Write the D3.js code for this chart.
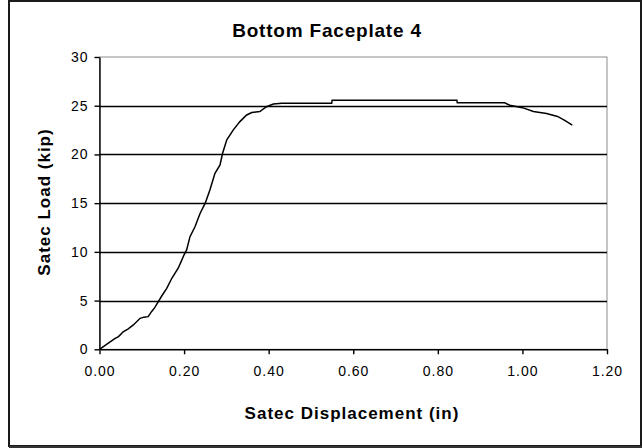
<!DOCTYPE html>
<html>
<head>
<meta charset="utf-8">
<script src="https://cdn.jsdelivr.net/npm/d3@7"></script>
<style>
  html, body { margin: 0; padding: 0; background: #fff; }
  svg { display: block; }
  text { font-family: "Liberation Sans", Arial, sans-serif; fill: #000; }
</style>
</head>
<body>
<svg id="chart" width="642" height="448"></svg>
<script>
// ---- data ----
const title = "Bottom Faceplate 4";
const xTitle = "Satec Displacement (in)";
const yTitle = "Satec Load (kip)";
const xTicks = [0, 0.2, 0.4, 0.6, 0.8, 1.0, 1.2];
const yTicks = [0, 5, 10, 15, 20, 25, 30];
const displacement = [0, 0.01, 0.02, 0.037, 0.045, 0.056, 0.068, 0.080, 0.096, 0.105, 0.115, 0.123, 0.131, 0.139, 0.149, 0.159, 0.171, 0.186, 0.193, 0.200, 0.206, 0.214, 0.226, 0.238, 0.250, 0.261, 0.273, 0.285, 0.291, 0.301, 0.316, 0.332, 0.348, 0.360, 0.379, 0.395, 0.411, 0.431, 0.549, 0.550, 0.845, 0.846, 0.958, 0.970, 1.000, 1.026, 1.057, 1.083, 1.100, 1.118];
const load = [0, 0.3, 0.6, 1.13, 1.3, 1.8, 2.1, 2.5, 3.18, 3.3, 3.35, 3.86, 4.3, 4.89, 5.6, 6.26, 7.29, 8.32, 9.0, 9.7, 10.2, 11.56, 12.6, 13.96, 15.0, 16.35, 18.07, 18.92, 20.12, 21.5, 22.5, 23.37, 24.05, 24.3, 24.4, 24.9, 25.18, 25.25, 25.25, 25.55, 25.55, 25.3, 25.3, 25.05, 24.8, 24.4, 24.2, 23.9, 23.5, 23.0];

// ---- layout ----
const svg = d3.select("#chart");
const L = 99.5, R = 607, T = 57, B = 349.3;
const x = d3.scaleLinear().domain([0, 1.2]).range([L, R]);
const y = d3.scaleLinear().domain([0, 30]).range([B, T]);

// outer frame
svg.append("rect").attr("x", 9).attr("y", 1).attr("width", 632).attr("height", 445)
  .attr("fill", "#fff").attr("stroke", "#1a1a1a").attr("stroke-width", 2);
svg.append("line").attr("x1", 9).attr("x2", 642).attr("y1", 447).attr("y2", 447)
  .attr("stroke", "#333").attr("stroke-width", 2);

// plot border (gray top/right)
svg.append("rect").attr("x", L).attr("y", T).attr("width", R - L).attr("height", B - T)
  .attr("fill", "none").attr("stroke", "#8c8c8c").attr("stroke-width", 1);

// gridlines
svg.append("g").selectAll("line").data(yTicks.filter(d => d > 0 && d < 30)).join("line")
  .attr("x1", L).attr("x2", R)
  .attr("y1", d => Math.round(y(d)) + 0.5).attr("y2", d => Math.round(y(d)) + 0.5)
  .attr("stroke", "#000").attr("stroke-width", 1.4);

// axes
const yAxis = svg.append("g").attr("transform", `translate(${L},0)`)
  .call(d3.axisLeft(y).tickValues(yTicks).tickSize(5).tickSizeOuter(0).tickPadding(6).tickFormat(d3.format("d")));
const xAxis = svg.append("g").attr("transform", `translate(0,${B})`)
  .call(d3.axisBottom(x).tickValues(xTicks).tickSize(5).tickSizeOuter(0).tickPadding(12).tickFormat(d3.format(".2f")));
[yAxis, xAxis].forEach(a => {
  a.selectAll("path").attr("stroke", "#000").attr("stroke-width", 1.4);
  a.selectAll("line").attr("stroke", "#000").attr("stroke-width", 1.4);
  a.selectAll("text").attr("font-size", 14).attr("fill", "#000")
    .style("font-family", '"Liberation Sans", Arial, sans-serif').attr("letter-spacing", 1);
});

// curve
const pts = displacement.map((d, i) => [d, load[i]]);
svg.append("path").datum(pts)
  .attr("fill", "none").attr("stroke", "#000").attr("stroke-width", 1.5)
  .attr("d", d3.line().x(d => x(d[0])).y(d => y(d[1])));

// titles
svg.append("text").attr("x", 327).attr("y", 37).attr("text-anchor", "middle")
  .attr("font-size", 19).attr("font-weight", "bold").attr("letter-spacing", 0.8).text(title);
svg.append("text").attr("x", 352).attr("y", 419).attr("text-anchor", "middle")
  .attr("font-size", 17).attr("font-weight", "bold").attr("letter-spacing", 1).text(xTitle);
svg.append("text").attr("transform", "translate(50,202) rotate(-90)").attr("text-anchor", "middle")
  .attr("font-size", 17).attr("font-weight", "bold").attr("letter-spacing", 1).text(yTitle);
</script>
</body>
</html>
